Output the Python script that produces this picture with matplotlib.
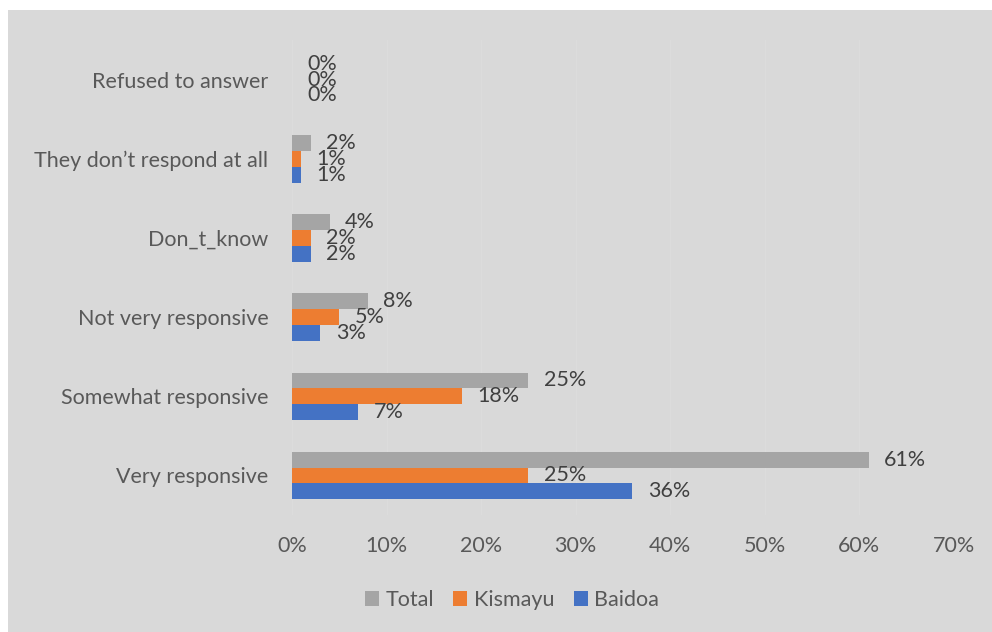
import matplotlib.pyplot as plt
from matplotlib.patches import Rectangle
import numpy as np

categories = ['Very responsive', 'Somewhat responsive', 'Not very responsive',
              'Don_t_know', 'They don\u2019t respond at all', 'Refused to answer']
total = [61, 25, 8, 4, 2, 0]
kismayu = [25, 18, 5, 2, 1, 0]
baidoa = [36, 7, 3, 2, 1, 0]
xticks = [0, 10, 20, 30, 40, 50, 60, 70]

plt.rcParams['font.family'] = ['Lato', 'DejaVu Sans']

bg = '#D9D9D9'
label_color = '#595959'
value_color = '#404040'
fs = 15.5

fig = plt.figure(figsize=(9.92, 6.32), dpi=100, facecolor='white')
fig.patches.append(Rectangle((8 / 992, 0), 1 - 8 / 992, 1 - 10 / 632,
                             transform=fig.transFigure, facecolor=bg,
                             edgecolor='none', zorder=-1))

ax = fig.add_axes([292 / 992, 1 - 515 / 632, 662 / 992, 475 / 632])
ax.set_facecolor(bg)

y = np.arange(len(categories))
h = 0.2
series = [
    ('Total', total, '#A5A5A5', h),
    ('Kismayu', kismayu, '#ED7D31', 0),
    ('Baidoa', baidoa, '#4472C4', -h),
]
for name, vals, color, off in series:
    ax.barh(y + off, vals, height=h, color=color, label=name, zorder=3)
    for yy, v in zip(y + off, vals):
        ax.annotate(f'{v}%', (v, yy), xytext=(11, 0), textcoords='offset points',
                    ha='left', va='center', fontsize=fs, color=value_color,
                    zorder=4)

ax.set_xlim(0, 70)
ax.set_ylim(-0.5, len(categories) - 0.5)
ax.set_xticks(xticks)
ax.set_xticklabels([f'{t}%' for t in xticks])
ax.set_yticks(y)
ax.set_yticklabels(categories)
ax.tick_params(axis='x', length=0, pad=15, labelsize=fs, labelcolor=label_color)
ax.tick_params(axis='y', length=0, pad=17, labelsize=fs, labelcolor=label_color)
ax.grid(axis='x', color='#DCDCDC', linewidth=0.8, zorder=0)
for s in ax.spines.values():
    s.set_visible(False)

handles, labels = ax.get_legend_handles_labels()
fig.legend(handles, labels, loc='center', bbox_to_anchor=(512 / 992, 1 - 600 / 632),
           ncol=3, frameon=False, fontsize=fs, labelcolor=label_color,
           handlelength=0.65, handleheight=0.65, handletextpad=0.3, columnspacing=0.9)

fig.savefig('out.png', dpi=100, facecolor='white')
